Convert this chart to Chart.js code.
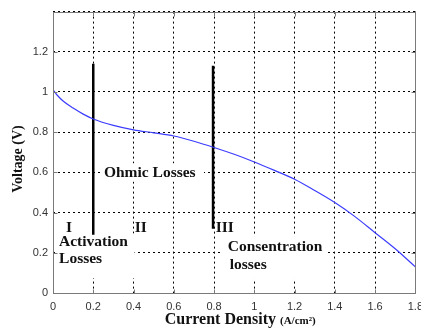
<!DOCTYPE html>
<html>
<head>
<meta charset="utf-8">
<script src="https://cdn.jsdelivr.net/npm/chart.js@4.4.1/dist/chart.umd.min.js"></script>
<style>
  html, body { margin: 0; padding: 0; background: #fff; }
  #wrap { width: 421px; height: 329px; overflow: hidden; }
</style>
</head>
<body>
<div id="wrap"><canvas id="polCurve" width="430" height="329"></canvas></div>
<script>
// Polarization curve
const currentDensity = [0, 0.02, 0.05, 0.1, 0.15, 0.2, 0.3, 0.4, 0.5, 0.6, 0.7, 0.8, 0.9, 1.0, 1.1, 1.2, 1.3, 1.4, 1.5, 1.6, 1.7, 1.8];
const voltage = [1.01, 0.985, 0.955, 0.92, 0.89, 0.866, 0.834, 0.812, 0.797, 0.781, 0.755, 0.724, 0.69, 0.652, 0.61, 0.566, 0.51, 0.45, 0.38, 0.30, 0.22, 0.13];

// region boundaries (thick black lines)
const boundaryX = [0.2, 0.795];
const boundaryTop = [1.14, 1.13];
const boundaryBottom = [0.29, 0.32];

// axis ticks
const xTicks = [0, 0.2, 0.4, 0.6, 0.8, 1, 1.2, 1.4, 1.6, 1.8];
const yTicks = [0, 0.2, 0.4, 0.6, 0.8, 1, 1.2, 1.4];

// labels inside the plot: [text, x, y, align]
const regionLabels = [
  ['Ohmic Losses', 0.253, 0.598, 'left'],
  ['I', 0.079, 0.325, 'center'],
  ['II', 0.436, 0.325, 'center'],
  ['III', 0.853, 0.325, 'center'],
  ['Activation', 0.03, 0.253, 'left'],
  ['Losses', 0.03, 0.17, 'left'],
  ['Consentration', 0.868, 0.228, 'left'],
  ['losses', 0.878, 0.137, 'left']
];
// white patches behind the text: [x1, y1, x2, y2]
const labelBoxes = [
  [0.015, 0.296, 0.405, 0.074],
  [0.83, 0.283, 1.36, 0.07],
  [0.24, 0.645, 0.75, 0.555]
];

const serif = '"Liberation Serif", "Times New Roman", serif';
const sans = '"Liberation Sans", Arial, sans-serif';

const curvePoints = currentDensity.map((x, i) => ({x: x, y: voltage[i]}));

const datasets = [{
  data: curvePoints,
  borderColor: 'rgb(60,60,255)',
  borderWidth: 1.2,
  pointRadius: 0,
  cubicInterpolationMode: 'monotone'
}];
boundaryX.forEach((x, i) => {
  datasets.push({
    data: [{x: x, y: boundaryTop[i]}, {x: x, y: boundaryBottom[i]}],
    borderColor: '#000',
    borderWidth: 2.5,
    pointRadius: 0
  });
});

// white patches go under the curves
const patches = {
  id: 'patches',
  beforeDatasetsDraw(chart) {
    const ctx = chart.ctx;
    const xs = chart.scales.x, ys = chart.scales.y;
    ctx.save();
    ctx.fillStyle = '#fff';
    labelBoxes.forEach(b => {
      const x1 = xs.getPixelForValue(b[0]), x2 = xs.getPixelForValue(b[2]);
      const y1 = ys.getPixelForValue(b[1]), y2 = ys.getPixelForValue(b[3]);
      ctx.fillRect(x1, y1, x2 - x1, y2 - y1);
    });
    ctx.restore();
  }
};

// frame, inward ticks, texts
const decorations = {
  id: 'decorations',
  afterDraw(chart) {
    const ctx = chart.ctx;
    const a = chart.chartArea;
    const xs = chart.scales.x, ys = chart.scales.y;
    ctx.save();

    // frame
    ctx.strokeStyle = '#7a7a7a';
    ctx.lineWidth = 1;
    const L = Math.round(a.left) + 0.5, T = Math.round(a.top) + 0.5;
    const R = Math.round(a.right) + 0.5, B = Math.round(a.bottom) + 0.5;
    ctx.strokeRect(L, T, R - L, B - T);

    // inward ticks
    ctx.beginPath();
    xTicks.forEach(t => {
      const px = Math.round(xs.getPixelForValue(t)) + 0.5;
      ctx.moveTo(px, B); ctx.lineTo(px, B - 4);
      ctx.moveTo(px, T); ctx.lineTo(px, T + 4);
    });
    yTicks.forEach(t => {
      const py = Math.round(ys.getPixelForValue(t)) + 0.5;
      ctx.moveTo(L, py); ctx.lineTo(L + 4, py);
      ctx.moveTo(R, py); ctx.lineTo(R - 4, py);
    });
    ctx.stroke();

    // region labels
    ctx.fillStyle = '#111';
    ctx.font = 'bold 15.5px ' + serif;
    ctx.textBaseline = 'middle';
    regionLabels.forEach(l => {
      ctx.textAlign = l[3];
      ctx.fillText(l[0], xs.getPixelForValue(l[1]), ys.getPixelForValue(l[2]));
    });

    // y title
    ctx.save();
    ctx.translate(18, 159);
    ctx.rotate(-Math.PI / 2);
    ctx.textAlign = 'center';
    ctx.textBaseline = 'middle';
    ctx.font = 'bold 14px ' + serif;
    ctx.fillText('Voltage (V)', 0, 0);
    ctx.restore();

    // x title
    ctx.textBaseline = 'alphabetic';
    ctx.textAlign = 'left';
    ctx.font = 'bold 16px ' + serif;
    const main = 'Current Density ';
    const w1 = ctx.measureText(main).width;
    ctx.font = 'bold 11px ' + serif;
    const unit = '(A/cm\u00B2)';
    const w2 = ctx.measureText(unit).width;
    const startX = (a.left + a.right) / 2 + 6 - (w1 + w2) / 2;
    ctx.font = 'bold 16px ' + serif;
    ctx.fillText(main, startX, 324);
    ctx.font = 'bold 11px ' + serif;
    ctx.fillText(unit, startX + w1, 324);

    ctx.restore();
  }
};

function fmt(v) {
  return String(+(+v).toFixed(1));
}

new Chart(document.getElementById('polCurve'), {
  type: 'line',
  data: { datasets: datasets },
  plugins: [patches, decorations],
  options: {
    responsive: false,
    animation: false,
    devicePixelRatio: 1,
    layout: { padding: { top: 9, right: 14, left: 0, bottom: 0 } },
    plugins: { legend: { display: false }, tooltip: { enabled: false } },
    scales: {
      x: {
        type: 'linear',
        min: 0,
        max: 1.8,
        afterFit: s => { s.height = 36; },
        afterBuildTicks: s => { s.ticks = xTicks.map(v => ({value: v})); },
        grid: { color: '#000', lineWidth: 1, drawTicks: false },
        border: { display: false, dash: [2, 3] },
        ticks: {
          padding: 7,
          maxRotation: 0,
          autoSkip: false,
          color: '#333',
          font: { family: sans, size: 11 },
          callback: v => fmt(v)
        }
      },
      y: {
        min: 0,
        max: 1.4,
        afterFit: s => { s.width = 53; },
        afterBuildTicks: s => { s.ticks = yTicks.map(v => ({value: v})); },
        grid: { color: '#000', lineWidth: 1, drawTicks: false },
        border: { display: false, dash: [2, 3] },
        ticks: {
          padding: 5,
          color: '#333',
          font: { family: sans, size: 11 },
          callback: v => (v > 1.3 ? '' : fmt(v))
        }
      }
    }
  }
});
</script>
</body>
</html>
